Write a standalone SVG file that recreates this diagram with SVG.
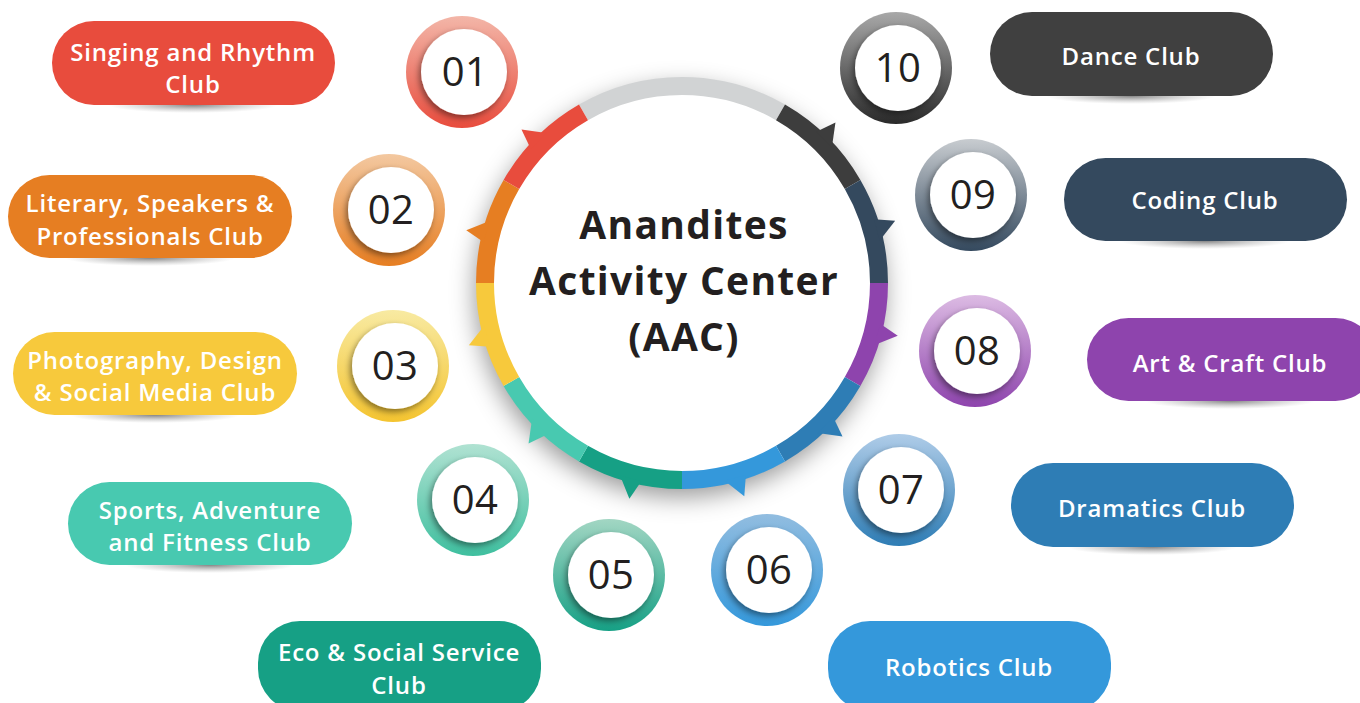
<svg xmlns="http://www.w3.org/2000/svg" width="1360" height="703" viewBox="0 0 1360 703">
<style>
.pt{font-family:"Open Sans","Liberation Sans",sans-serif;font-weight:600;font-size:24px;letter-spacing:0.8px;fill:#fff;text-anchor:middle}
.num{font-family:"Open Sans","Liberation Sans",sans-serif;font-weight:500;font-size:40px;letter-spacing:0.5px;fill:#231f20;text-anchor:middle}
.ct{font-family:"Open Sans","Liberation Sans",sans-serif;font-weight:700;font-size:39px;letter-spacing:1.3px;fill:#231f20;text-anchor:middle}
.seg{fill:none;stroke-width:18}
.inner{fill:#fff;filter:url(#sh)}
.psh{fill:url(#pshg)}
</style>
<defs>
<filter id="sh" x="-30%" y="-30%" width="160%" height="160%"><feDropShadow dx="-2" dy="3" stdDeviation="3" flood-color="#000" flood-opacity="0.45"/></filter>
<filter id="csh" x="-20%" y="-20%" width="140%" height="140%"><feDropShadow dx="-2" dy="9" stdDeviation="12" flood-color="#000" flood-opacity="0.4"/></filter>
<radialGradient id="pshg"><stop offset="0" stop-color="#777" stop-opacity="0.9"/><stop offset="1" stop-color="#aaa" stop-opacity="0"/></radialGradient>
<linearGradient id="g1" x1="0" y1="0" x2="0" y2="1"><stop offset="0" stop-color="#f3b6a8"/><stop offset="1" stop-color="#e84c3d"/></linearGradient>
<linearGradient id="g2" x1="0" y1="0" x2="0" y2="1"><stop offset="0" stop-color="#f3c8a0"/><stop offset="1" stop-color="#e67e22"/></linearGradient>
<linearGradient id="g3" x1="0" y1="0" x2="0" y2="1"><stop offset="0" stop-color="#f8eaa2"/><stop offset="1" stop-color="#f4c430"/></linearGradient>
<linearGradient id="g4" x1="0" y1="0" x2="0" y2="1"><stop offset="0" stop-color="#b0e2d2"/><stop offset="1" stop-color="#3fbf9f"/></linearGradient>
<linearGradient id="g5" x1="0" y1="0" x2="0" y2="1"><stop offset="0" stop-color="#a2d6c3"/><stop offset="1" stop-color="#16a085"/></linearGradient>
<linearGradient id="g6" x1="0" y1="0" x2="0" y2="1"><stop offset="0" stop-color="#92bde0"/><stop offset="1" stop-color="#3498db"/></linearGradient>
<linearGradient id="g7" x1="0" y1="0" x2="0" y2="1"><stop offset="0" stop-color="#afcce8"/><stop offset="1" stop-color="#2e7db5"/></linearGradient>
<linearGradient id="g8" x1="0" y1="0" x2="0" y2="1"><stop offset="0" stop-color="#dcbbe3"/><stop offset="1" stop-color="#8e44ad"/></linearGradient>
<linearGradient id="g9" x1="0" y1="0" x2="0" y2="1"><stop offset="0" stop-color="#c8ccd0"/><stop offset="1" stop-color="#34495e"/></linearGradient>
<linearGradient id="g10" x1="0" y1="0" x2="0" y2="1"><stop offset="0" stop-color="#a8a8a8"/><stop offset="1" stop-color="#2a2a2a"/></linearGradient>
<polygon id="tooth" points="202,-12 222,-5 202,10"/>
</defs>
<rect width="1360" height="703" fill="#fff"/>

<!-- pills -->
<g id="pill1"><ellipse class="psh" cx="193" cy="105" rx="85" ry="8"/><rect x="52" y="21" width="283" height="84" rx="42" fill="#e84c3d"/><text class="pt" x="193" y="61">Singing and Rhythm</text><text class="pt" x="193" y="93">Club</text></g>
<g id="pill2"><ellipse class="psh" cx="150" cy="258" rx="85" ry="8"/><rect x="8" y="175" width="284" height="83" rx="41.5" fill="#e67e22"/><text class="pt" x="150" y="212">Literary, Speakers &amp;</text><text class="pt" x="150" y="245">Professionals Club</text></g>
<g id="pill3"><ellipse class="psh" cx="155" cy="415" rx="85" ry="8"/><rect x="13" y="332" width="284" height="83" rx="41.5" fill="#f7c93c"/><text class="pt" x="155" y="369">Photography, Design</text><text class="pt" x="155" y="401">&amp; Social Media Club</text></g>
<g id="pill4"><ellipse class="psh" cx="210" cy="565" rx="85" ry="8"/><rect x="68" y="482" width="284" height="83" rx="41.5" fill="#48c9b0"/><text class="pt" x="210" y="519">Sports, Adventure</text><text class="pt" x="210" y="551">and Fitness Club</text></g>
<g id="pill5"><rect x="258" y="621" width="283" height="90" rx="42" fill="#16a085"/><text class="pt" x="399" y="661">Eco &amp; Social Service</text><text class="pt" x="399" y="694">Club</text></g>
<g id="pill6"><rect x="828" y="621" width="283" height="90" rx="42" fill="#3498db"/><text class="pt" x="969" y="676">Robotics Club</text></g>
<g id="pill7"><ellipse class="psh" cx="1152" cy="547" rx="85" ry="8"/><rect x="1011" y="463" width="283" height="84" rx="42" fill="#2e7db5"/><text class="pt" x="1152" y="517">Dramatics Club</text></g>
<g id="pill8"><ellipse class="psh" cx="1230" cy="401" rx="85" ry="8"/><rect x="1087" y="318" width="290" height="83" rx="41.5" fill="#8e44ad"/><text class="pt" x="1230" y="372">Art &amp; Craft Club</text></g>
<g id="pill9"><ellipse class="psh" cx="1205" cy="241" rx="85" ry="8"/><rect x="1064" y="158" width="283" height="83" rx="41.5" fill="#34495e"/><text class="pt" x="1205" y="209">Coding Club</text></g>
<g id="pill10"><ellipse class="psh" cx="1131" cy="96" rx="85" ry="8"/><rect x="990" y="12" width="283" height="84" rx="42" fill="#404040"/><text class="pt" x="1131" y="65">Dance Club</text></g>

<!-- number badges -->
<g id="n01"><circle cx="462" cy="72" r="56" fill="url(#g1)"/><circle class="inner" cx="464" cy="72" r="43"/><text class="num" x="465" y="86">01</text></g>
<g id="n02"><circle cx="389" cy="210" r="56" fill="url(#g2)"/><circle class="inner" cx="391" cy="210" r="43"/><text class="num" x="391" y="224">02</text></g>
<g id="n03"><circle cx="393" cy="366" r="56" fill="url(#g3)"/><circle class="inner" cx="395" cy="366" r="43"/><text class="num" x="395" y="380">03</text></g>
<g id="n04"><circle cx="473" cy="500" r="56" fill="url(#g4)"/><circle class="inner" cx="475" cy="500" r="43"/><text class="num" x="475" y="514">04</text></g>
<g id="n05"><circle cx="609" cy="575" r="56" fill="url(#g5)"/><circle class="inner" cx="611" cy="575" r="43"/><text class="num" x="611" y="589">05</text></g>
<g id="n06"><circle cx="767" cy="570" r="56" fill="url(#g6)"/><circle class="inner" cx="769" cy="570" r="43"/><text class="num" x="769" y="584">06</text></g>
<g id="n07"><circle cx="899" cy="490" r="56" fill="url(#g7)"/><circle class="inner" cx="901" cy="490" r="43"/><text class="num" x="901" y="504">07</text></g>
<g id="n08"><circle cx="975" cy="351" r="56" fill="url(#g8)"/><circle class="inner" cx="977" cy="351" r="43"/><text class="num" x="977" y="365">08</text></g>
<g id="n09"><circle cx="971" cy="195" r="56" fill="url(#g9)"/><circle class="inner" cx="973" cy="195" r="43"/><text class="num" x="973" y="209">09</text></g>
<g id="n10"><circle cx="896" cy="68" r="56" fill="url(#g10)"/><circle class="inner" cx="898" cy="68" r="43"/><text class="num" x="898" y="82">10</text></g>

<!-- central hub -->
<g id="hub">
<circle cx="682" cy="283" r="205" fill="#fff" filter="url(#csh)"/>
<g id="ring">
<path class="seg" stroke="#d1d3d4" d="M583.5,112.4 A197,197 0 0 1 780.5,112.4"/>
<path class="seg" stroke="#3d3d3d" d="M780.5,112.4 A197,197 0 0 1 852.6,184.5"/>
<path class="seg" stroke="#34495e" d="M852.6,184.5 A197,197 0 0 1 879,283"/>
<path class="seg" stroke="#8e44ad" d="M879,283 A197,197 0 0 1 852.6,381.5"/>
<path class="seg" stroke="#2e7db5" d="M852.6,381.5 A197,197 0 0 1 780.5,453.6"/>
<path class="seg" stroke="#3498db" d="M780.5,453.6 A197,197 0 0 1 682,480"/>
<path class="seg" stroke="#16a085" d="M682,480 A197,197 0 0 1 583.5,453.6"/>
<path class="seg" stroke="#48c9b0" d="M583.5,453.6 A197,197 0 0 1 511.4,381.5"/>
<path class="seg" stroke="#f7c93c" d="M511.4,381.5 A197,197 0 0 1 485,283"/>
<path class="seg" stroke="#e67e22" d="M485,283 A197,197 0 0 1 511.4,184.5"/>
<path class="seg" stroke="#e84c3d" d="M511.4,184.5 A197,197 0 0 1 583.5,112.4"/>
<g transform="translate(682 283)">
<use href="#tooth" fill="#e84c3d" transform="rotate(225)"/>
<use href="#tooth" fill="#3d3d3d" transform="rotate(-45)"/>
<use href="#tooth" fill="#34495e" transform="rotate(-15)"/>
<use href="#tooth" fill="#8e44ad" transform="rotate(15)"/>
<use href="#tooth" fill="#2e7db5" transform="rotate(45)"/>
<use href="#tooth" fill="#3498db" transform="rotate(75)"/>
<use href="#tooth" fill="#16a085" transform="rotate(105)"/>
<use href="#tooth" fill="#48c9b0" transform="rotate(135)"/>
<use href="#tooth" fill="#f7c93c" transform="rotate(165)"/>
<use href="#tooth" fill="#e67e22" transform="rotate(195)"/>
</g>
</g>
<text class="ct" x="684" y="239">Anandites</text>
<text class="ct" x="684" y="295">Activity Center</text>
<text class="ct" x="684" y="351">(AAC)</text>
</g>
</svg>
